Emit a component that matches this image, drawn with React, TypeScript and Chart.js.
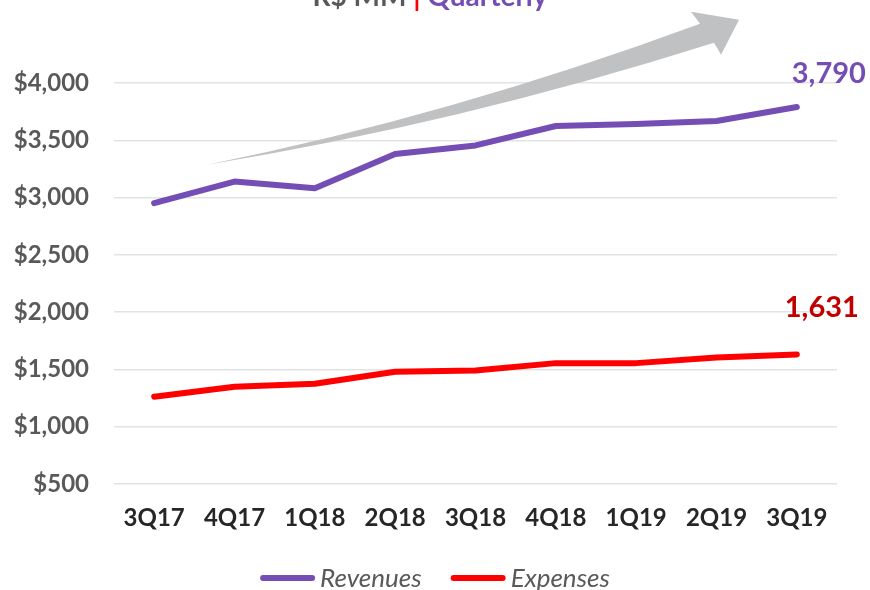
import React, { useEffect, useRef } from "react";
import { Chart, registerables } from "chart.js";

Chart.register(...registerables);

const categories = ["3Q17", "4Q17", "1Q18", "2Q18", "3Q18", "4Q18", "1Q19", "2Q19", "3Q19"];
const revenues = [2951, 3140, 3082, 3381, 3455, 3625, 3642, 3668, 3790];
const expenses = [1262, 1348, 1375, 1480, 1490, 1555, 1555, 1605, 1631];
const yMin = 500;
const yMax = 4000;
const yStep = 500;
const titleParts = ["R$ MM ", "|", " Quarterly"];

const PURPLE = "#744EB4";
const RED = "#FF0000";
const DARK_RED = "#C00000";
const GREY_TEXT = "#595959";
const FONT = "Lato, 'Open Sans', sans-serif";

const fmt = (v: number) => v.toLocaleString("en-US");

const decorPlugin = {
  id: "decor",
  beforeDatasetsDraw(chart: any) {
    const { ctx, chartArea: a } = chart;
    const W = a.right - a.left;
    const H = a.bottom - a.top;
    const P = (fx: number, fy: number): [number, number] => [a.left + fx * W, a.top + fy * H];
    ctx.save();
    ctx.fillStyle = "#C0C1C3";
    ctx.beginPath();
    const tail = P(0.1286, 0.2036);
    const uc = P(0.4661, 0.0815);
    const ue = P(0.8105, -0.1478);
    const hn = P(0.7981, -0.1777);
    const tip = P(0.8645, -0.1578);
    const ln = P(0.8396, -0.0705);
    const le = P(0.8299, -0.1004);
    const lc = P(0.4786, 0.1005);
    ctx.moveTo(tail[0], tail[1]);
    ctx.quadraticCurveTo(uc[0], uc[1], ue[0], ue[1]);
    ctx.lineTo(hn[0], hn[1]);
    ctx.lineTo(tip[0], tip[1]);
    ctx.lineTo(ln[0], ln[1]);
    ctx.lineTo(le[0], le[1]);
    ctx.quadraticCurveTo(lc[0], lc[1], tail[0], tail[1]);
    ctx.closePath();
    ctx.fill();
    ctx.restore();
  },
  afterDraw(chart: any) {
    const { ctx, width, height } = chart;
    ctx.save();
    // Title (partly cut off at the top)
    ctx.font = `bold 28px ${FONT}`;
    ctx.textBaseline = "alphabetic";
    ctx.textAlign = "left";
    const colors = [GREY_TEXT, RED, PURPLE];
    const widths = titleParts.map((t) => ctx.measureText(t).width);
    const total = widths.reduce((s, w) => s + w, 0);
    let x = width / 2 - 5 - total / 2;
    titleParts.forEach((t, i) => {
      ctx.fillStyle = colors[i];
      ctx.fillText(t, x, 6);
      x += widths[i];
    });

    // Last-point value labels
    const labelSpecs = [
      { ds: 0, color: PURPLE, dx: 32, dy: -33 },
      { ds: 1, color: DARK_RED, dx: 25, dy: -47 },
    ];
    ctx.font = `bold 29px ${FONT}`;
    ctx.textAlign = "center";
    ctx.textBaseline = "middle";
    labelSpecs.forEach((s) => {
      const meta = chart.getDatasetMeta(s.ds);
      const data = chart.data.datasets[s.ds].data as number[];
      const last = meta.data[meta.data.length - 1];
      ctx.fillStyle = s.color;
      ctx.fillText(fmt(data[data.length - 1]), last.x + s.dx, last.y + s.dy);
    });

    // Legend
    ctx.font = `italic 26px ${FONT}`;
    ctx.textAlign = "left";
    ctx.textBaseline = "alphabetic";
    const lineLen = 55;
    const gap = 5;
    const itemGap = 29;
    const items = chart.data.datasets.map((d: any) => ({
      label: d.label,
      color: d.borderColor,
      w: lineLen + gap + ctx.measureText(d.label).width,
    }));
    const legendW = items.reduce((s: number, it: any) => s + it.w, 0) + itemGap * (items.length - 1);
    let lx = width / 2 - legendW / 2;
    const ly = height - 12;
    items.forEach((it: any) => {
      ctx.strokeStyle = it.color;
      ctx.lineWidth = 6;
      ctx.lineCap = "round";
      ctx.beginPath();
      ctx.moveTo(lx + 3, ly);
      ctx.lineTo(lx + lineLen - 3, ly);
      ctx.stroke();
      ctx.fillStyle = GREY_TEXT;
      ctx.fillText(it.label, lx + lineLen + gap, ly + 9);
      lx += it.w + itemGap;
    });
    ctx.restore();
  },
};

export default function App() {
  const ref = useRef<HTMLCanvasElement | null>(null);
  useEffect(() => {
    if (!ref.current) return;
    const chart = new Chart(ref.current, {
      type: "line",
      data: {
        labels: categories,
        datasets: [
          {
            label: "Revenues",
            data: revenues,
            borderColor: PURPLE,
            backgroundColor: PURPLE,
            borderWidth: 6,
            borderCapStyle: "round",
            borderJoinStyle: "round",
            pointRadius: 0,
            tension: 0,
          },
          {
            label: "Expenses",
            data: expenses,
            borderColor: RED,
            backgroundColor: RED,
            borderWidth: 6,
            borderCapStyle: "round",
            borderJoinStyle: "round",
            pointRadius: 0,
            tension: 0,
          },
        ],
      },
      options: {
        responsive: false,
        animation: false,
        layout: { padding: { top: 83, right: 33, left: 0, bottom: 56 } },
        plugins: {
          legend: { display: false },
          title: { display: false },
          tooltip: { enabled: false },
        },
        scales: {
          x: {
            offset: true,
            grid: { display: false, drawTicks: false },
            border: { display: false },
            ticks: {
              color: "#262626",
              font: { family: FONT, size: 24, weight: "bold" },
              padding: 20,
            },
            afterFit: (s: any) => {
              s.height = 50;
            },
          },
          y: {
            min: yMin,
            max: yMax,
            grid: { color: "#E3E3E3", lineWidth: 1.5, drawTicks: false },
            border: { display: false },
            ticks: {
              stepSize: yStep,
              color: GREY_TEXT,
              font: { family: FONT, size: 24, weight: "bold" },
              padding: 25,
              callback: (v: any) => "$" + fmt(Number(v)),
            },
            afterFit: (s: any) => {
              s.width = 114;
            },
          },
        },
      },
      plugins: [decorPlugin],
    });
    return () => chart.destroy();
  }, []);
  return (
    <div style={{ position: "absolute", left: 0, top: 0, width: 870, height: 590, background: "#fff" }}>
      <canvas ref={ref} width={870} height={590} style={{ display: "block" }} />
    </div>
  );
}
